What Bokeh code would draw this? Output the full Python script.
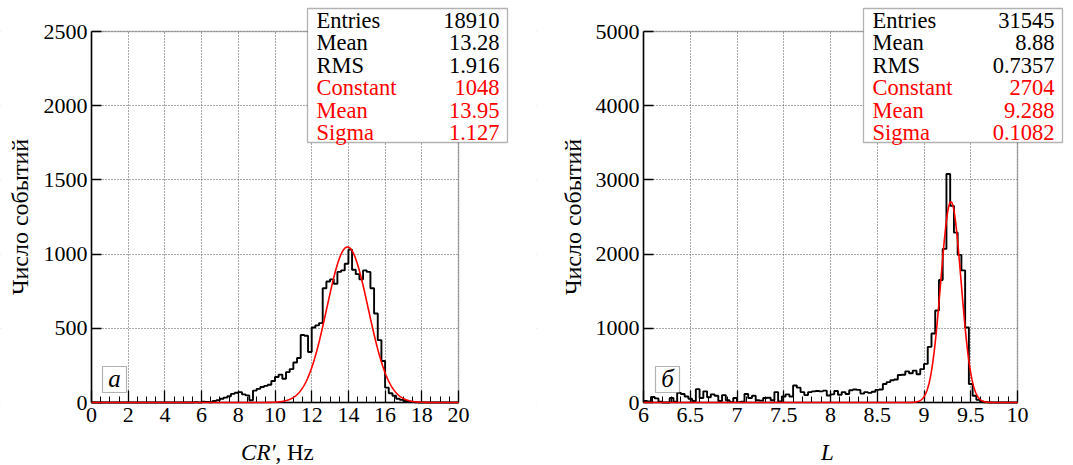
import numpy as np
from bokeh.plotting import figure
from bokeh.models import (Range1d, SingleIntervalTicker, BoxAnnotation, Label,
                          CustomJSTickFormatter)
from bokeh.layouts import row
from bokeh.embed import file_html
from bokeh.resources import INLINE

FONT = "'Liberation Serif'"

# ---------------- Panel a: CR', Hz ----------------
a_bin_start = 0.0
a_bin_width = 0.2
a_counts = ([0] * 28 +
            [2, 0, 6, 3, 2, 10, 16, 25, 33, 42,
             58, 66, 70, 55, 48, 15, 80, 92, 104, 112,
             120, 145, 172, 188, 160, 205, 225, 270, 300, 455,
             450, 340, 505, 520, 535, 770, 815, 830, 800, 880,
             890, 935, 1030, 895, 865, 830, 890, 880, 770, 600,
             420, 280, 100, 62, 45, 25, 18, 10, 5, 3, 1] +
            [0] * 11)
a_stat_names = ["Entries", "Mean", "RMS"]
a_stat_values = ["18910", "13.28", "1.916"]
a_fit_names = ["Constant", "Mean", "Sigma"]
a_fit_values = ["1048", "13.95", "1.127"]
a_fit_constant, a_fit_mean, a_fit_sigma = 1048.0, 13.95, 1.127
a_x_limits = (0, 20)
a_y_limits = (0, 2500)
a_x_tick_step, a_x_minor = 2, 4
a_y_tick_step = 500
a_letter = "а"
a_xtitle_italic = "CR′"
a_xtitle_plain = ", Hz"

# ---------------- Panel b: L ----------------
b_bin_start = 6.0
b_bin_width = 0.04
b_counts = [20, 15, 75, 55, 10, 0, 0, 60, 10, 130,
            115, 80, 50, 20, 180, 60, 150, 70, 110, 90,
            20, 100, 30, 5, 60, 5, 10, 115, 60, 90,
            30, 25, 60, 65, 30, 140, 15, 80, 110, 80,
            230, 200, 140, 100, 140, 150, 155, 150, 160, 95,
            110, 155, 105, 140, 115, 165, 175, 170, 120, 140,
            130, 145, 170, 175, 250, 275, 300, 310, 370, 375,
            420, 395, 430, 380, 450, 520, 750, 930, 1240, 1650,
            2070, 3080, 2650, 2290, 1990, 1780, 1010, 250, 90, 36,
            12, 4, 0, 0, 0, 0, 0, 0, 0, 0]
b_stat_names = ["Entries", "Mean", "RMS"]
b_stat_values = ["31545", "8.88", "0.7357"]
b_fit_names = ["Constant", "Mean", "Sigma"]
b_fit_values = ["2704", "9.288", "0.1082"]
b_fit_constant, b_fit_mean, b_fit_sigma = 2704.0, 9.288, 0.1082
b_x_limits = (6, 10)
b_y_limits = (0, 5000)
b_x_tick_step, b_x_minor = 0.5, 5
b_y_tick_step = 1000
b_letter = "б"
b_xtitle_italic = "L"
b_xtitle_plain = ""

y_axis_title = "Число событий"

HEIGHT = 465
PLOT_TOP, PLOT_BOTTOM = 31, 402     # pixel rows of the axes box (from top)


def make_panel(width, px_left, px_right, counts, start, bw, xlim, ylim,
               x_step, x_minor, y_step, fit, stat_names, stat_values,
               fit_names, fit_values, letter, box_px, letter_px,
               xt_italic, xt_plain, xt_split, ytitle_x):
    # ranges chosen so that xlim/ylim map onto the axes box inside a full-canvas frame
    sx = (px_right - px_left) / (xlim[1] - xlim[0])
    sy = (PLOT_BOTTOM - PLOT_TOP) / (ylim[1] - ylim[0])
    xr = Range1d(xlim[0] - px_left / sx, xlim[1] + (width - px_right) / sx)
    yr = Range1d(ylim[0] - (HEIGHT - PLOT_BOTTOM) / sy, ylim[1] + PLOT_TOP / sy)

    p = figure(width=width, height=HEIGHT, x_range=xr, y_range=yr,
               output_backend="svg", toolbar_location=None,
               min_border_left=0, min_border_right=0, min_border_top=0, min_border_bottom=0)
    p.background_fill_color = "white"
    p.border_fill_color = "white"
    p.outline_line_color = None

    # grid
    p.grid.grid_line_color = "#555555"
    p.grid.grid_line_dash = "1 2"
    p.grid.grid_line_width = 1
    # hide grid outside the axes box
    big = 1e7
    for l, r, b, t in [(-big, xlim[0], -big, big), (xlim[1], big, -big, big),
                       (-big, big, -big, ylim[0]), (-big, big, ylim[1], big)]:
        p.add_layout(BoxAnnotation(left=l, right=r, bottom=b, top=t, fill_color="white",
                                   fill_alpha=1.0, line_color=None, level="underlay"))

    # histogram step outline
    edges = start + bw * np.arange(len(counts) + 1)
    ys = list(counts) + [counts[-1]]
    p.step(edges, ys, mode="after", line_color="black", line_width=1.9)

    # fitted gaussian
    c, m, s = fit
    xs = np.linspace(xlim[0], xlim[1], 1200)
    p.line(xs, c * np.exp(-0.5 * ((xs - m) / s) ** 2), line_color="#ff0000",
           line_width=1.6, level="overlay")

    # axes fixed on the box edges
    p.xaxis.fixed_location = ylim[0]
    p.yaxis.fixed_location = xlim[0]
    p.xaxis.bounds = xlim
    p.yaxis.bounds = ylim
    p.xaxis.ticker = SingleIntervalTicker(interval=x_step, num_minor_ticks=x_minor)
    p.yaxis.ticker = SingleIntervalTicker(interval=y_step, num_minor_ticks=0)
    for ax in (p.xaxis[0], p.yaxis[0]):
        ax.axis_line_color = "black"
        ax.axis_line_width = 1.5
        ax.major_tick_line_color = "black"
        ax.major_tick_line_width = 1.3
        ax.major_tick_out = 0
        ax.minor_tick_out = 0
        ax.minor_tick_line_color = "black"
        ax.major_label_text_font = FONT
        ax.major_label_text_font_size = "22px"
        ax.major_label_text_color = "black"
    p.xaxis.major_tick_in = 12
    p.xaxis.minor_tick_in = 6
    p.xaxis.major_label_standoff = 5
    p.yaxis.major_tick_in = 10
    p.yaxis.minor_tick_line_color = None
    p.yaxis.major_label_standoff = 4

    # axes box outline
    p.add_layout(BoxAnnotation(left=xlim[0], right=xlim[1], bottom=ylim[0], top=ylim[1],
                               fill_alpha=0.0, line_color="black", line_width=1.5))

    # statistics box (pixel geometry, measured from canvas top-left)
    bl, br, bt, bb = box_px
    p.add_layout(BoxAnnotation(left=bl, right=br, top=HEIGHT - bt, bottom=HEIGHT - bb,
                               left_units="screen", right_units="screen",
                               top_units="screen", bottom_units="screen",
                               fill_color="white", fill_alpha=1.0,
                               line_color="black", line_width=1.3))
    rows_y = [19.5, 42, 64.5, 87, 109.5, 132]
    names = stat_names + fit_names
    values = stat_values + fit_values
    for i, (n, v) in enumerate(zip(names, values)):
        col = "black" if i < 3 else "#ff0000"
        p.add_layout(Label(x=bl + 9, y=HEIGHT - rows_y[i], x_units="screen", y_units="screen",
                           text=n, text_font=FONT, text_font_size="22.5px",
                           text_color=col, text_align="left", text_baseline="middle"))
        p.add_layout(Label(x=br - 8, y=HEIGHT - rows_y[i], x_units="screen", y_units="screen",
                           text=v, text_font=FONT, text_font_size="22.5px",
                           text_color=col, text_align="right", text_baseline="middle"))

    # panel letter
    ll, lr, lt, lb = letter_px
    p.add_layout(BoxAnnotation(left=ll, right=lr, top=HEIGHT - lt, bottom=HEIGHT - lb,
                               left_units="screen", right_units="screen",
                               top_units="screen", bottom_units="screen",
                               fill_color="white", fill_alpha=1.0,
                               line_color="black", line_width=1.2))
    p.add_layout(Label(x=(ll + lr) / 2, y=HEIGHT - (lt + lb) / 2 + 1,
                       x_units="screen", y_units="screen",
                       text=letter, text_font=FONT, text_font_size="25px",
                       text_font_style="italic", text_color="black",
                       text_align="center", text_baseline="middle"))

    # x title (visual centre line ~452 px from top)
    ty = HEIGHT - 452
    if xt_plain:
        p.add_layout(Label(x=xt_split, y=ty, x_units="screen", y_units="screen",
                           text=xt_italic, text_font=FONT, text_font_size="23px",
                           text_font_style="italic", text_color="black",
                           text_align="right", text_baseline="middle"))
        p.add_layout(Label(x=xt_split, y=ty, x_units="screen", y_units="screen",
                           text=xt_plain, text_font=FONT, text_font_size="23px",
                           text_color="black", text_align="left", text_baseline="middle"))
    else:
        p.add_layout(Label(x=xt_split, y=ty, x_units="screen", y_units="screen",
                           text=xt_italic, text_font=FONT, text_font_size="23px",
                           text_font_style="italic", text_color="black",
                           text_align="center", text_baseline="middle"))

    # y title
    p.add_layout(Label(x=ytitle_x, y=HEIGHT - (PLOT_TOP + PLOT_BOTTOM) / 2,
                       x_units="screen", y_units="screen", angle=90, angle_units="deg",
                       text=y_axis_title, text_font=FONT, text_font_size="24px",
                       text_color="black", text_align="center", text_baseline="middle"))
    return p


pa = make_panel(536, 91, 458, a_counts, a_bin_start, a_bin_width, a_x_limits, a_y_limits,
                a_x_tick_step, a_x_minor, a_y_tick_step,
                (a_fit_constant, a_fit_mean, a_fit_sigma),
                a_stat_names, a_stat_values, a_fit_names, a_fit_values, a_letter,
                (307, 507, 8, 142), (102, 126, 366, 392),
                a_xtitle_italic, a_xtitle_plain, 275, 19)
pb = make_panel(537, 107, 481, b_counts, b_bin_start, b_bin_width, b_x_limits, b_y_limits,
                b_x_tick_step, b_x_minor, b_y_tick_step,
                (b_fit_constant, b_fit_mean, b_fit_sigma),
                b_stat_names, b_stat_values, b_fit_names, b_fit_values, b_letter,
                (327, 526, 8, 142), (119, 143, 366, 392),
                b_xtitle_italic, b_xtitle_plain, 291, 36)
pb.xaxis.formatter = CustomJSTickFormatter(code="return String(Math.round(tick*10)/10);")

layout = row(pa, pb)
open("out.html", "w").write(file_html(layout, INLINE))
